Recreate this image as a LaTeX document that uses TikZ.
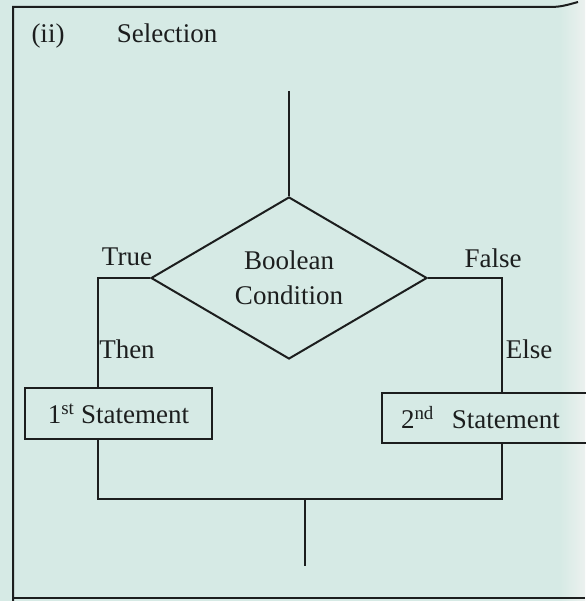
\documentclass[tikz,border=0pt]{standalone}
\usepackage{fontspec}
\setmainfont{Liberation Serif}
\usetikzlibrary{shapes.geometric}
\definecolor{pagebg}{RGB}{214,234,229}
\definecolor{pageedge}{RGB}{236,241,239}
\definecolor{ink}{RGB}{28,30,30}
\begin{document}
\begin{tikzpicture}[x=1pt,y=-1pt,line width=2pt,draw=ink,
    every node/.style={text=ink,font=\fontsize{27}{35}\selectfont},
    lbl/.style={anchor=base,inner sep=0pt},
    decision/.style={diamond,draw,inner sep=0pt,align=center,minimum width=276pt,minimum height=152pt},
    stmt/.style={rectangle,draw,inner sep=0pt,minimum height=51pt}]
        \useasboundingbox (0,0) rectangle (585,601);
        \fill[pagebg] (0,0) rectangle (585,601);
        \shade[left color=pagebg,right color=pageedge] (560,0) rectangle (585,601);
        \draw (13,601) -- (13,7) -- (550,7) to[out=0,in=195] (578,2);
        \draw (13,598) -- (585,598);
        \node[lbl] at (48,43) (num) {(ii)};
        \node[lbl] at (167,43) (title) {Selection};
        \coordinate (start) at (289,91);
        \node[decision] at (289,278) (cond) {Boolean\\Condition};
        \node[stmt,minimum width=187pt] at (118.5,413.5) (first) {1\textsuperscript{st} Statement};
        \node[stmt,anchor=west,minimum height=50pt,inner xsep=19pt,text width=200pt,align=left] at (381,418) (second) {2\textsuperscript{nd}\ \ Statement};
        \coordinate (tl) at (98,278);
        \coordinate (tr) at (502,278);
        \coordinate (bl) at (98,499);
        \coordinate (br) at (502,499);
        \coordinate (join) at (305,499);
        \coordinate (stop) at (305,566);
        \node[lbl] at (127,265) (true) {True};
        \node[lbl] at (493,267) (false) {False};
        \node[lbl] at (127,358) (then) {Then};
        \node[lbl] at (529,358) (else) {Else};
        \draw (start) -- (cond.north);
        \draw (cond.west) -- (tl) -- (tl |- first.north);
        \draw (cond.east) -- (tr) -- (tr |- second.north);
        \draw (tl |- first.south) -- (bl) -- (br) -- (br |- second.south);
        \draw (join) -- (stop);
      \end{tikzpicture}
\end{document}
